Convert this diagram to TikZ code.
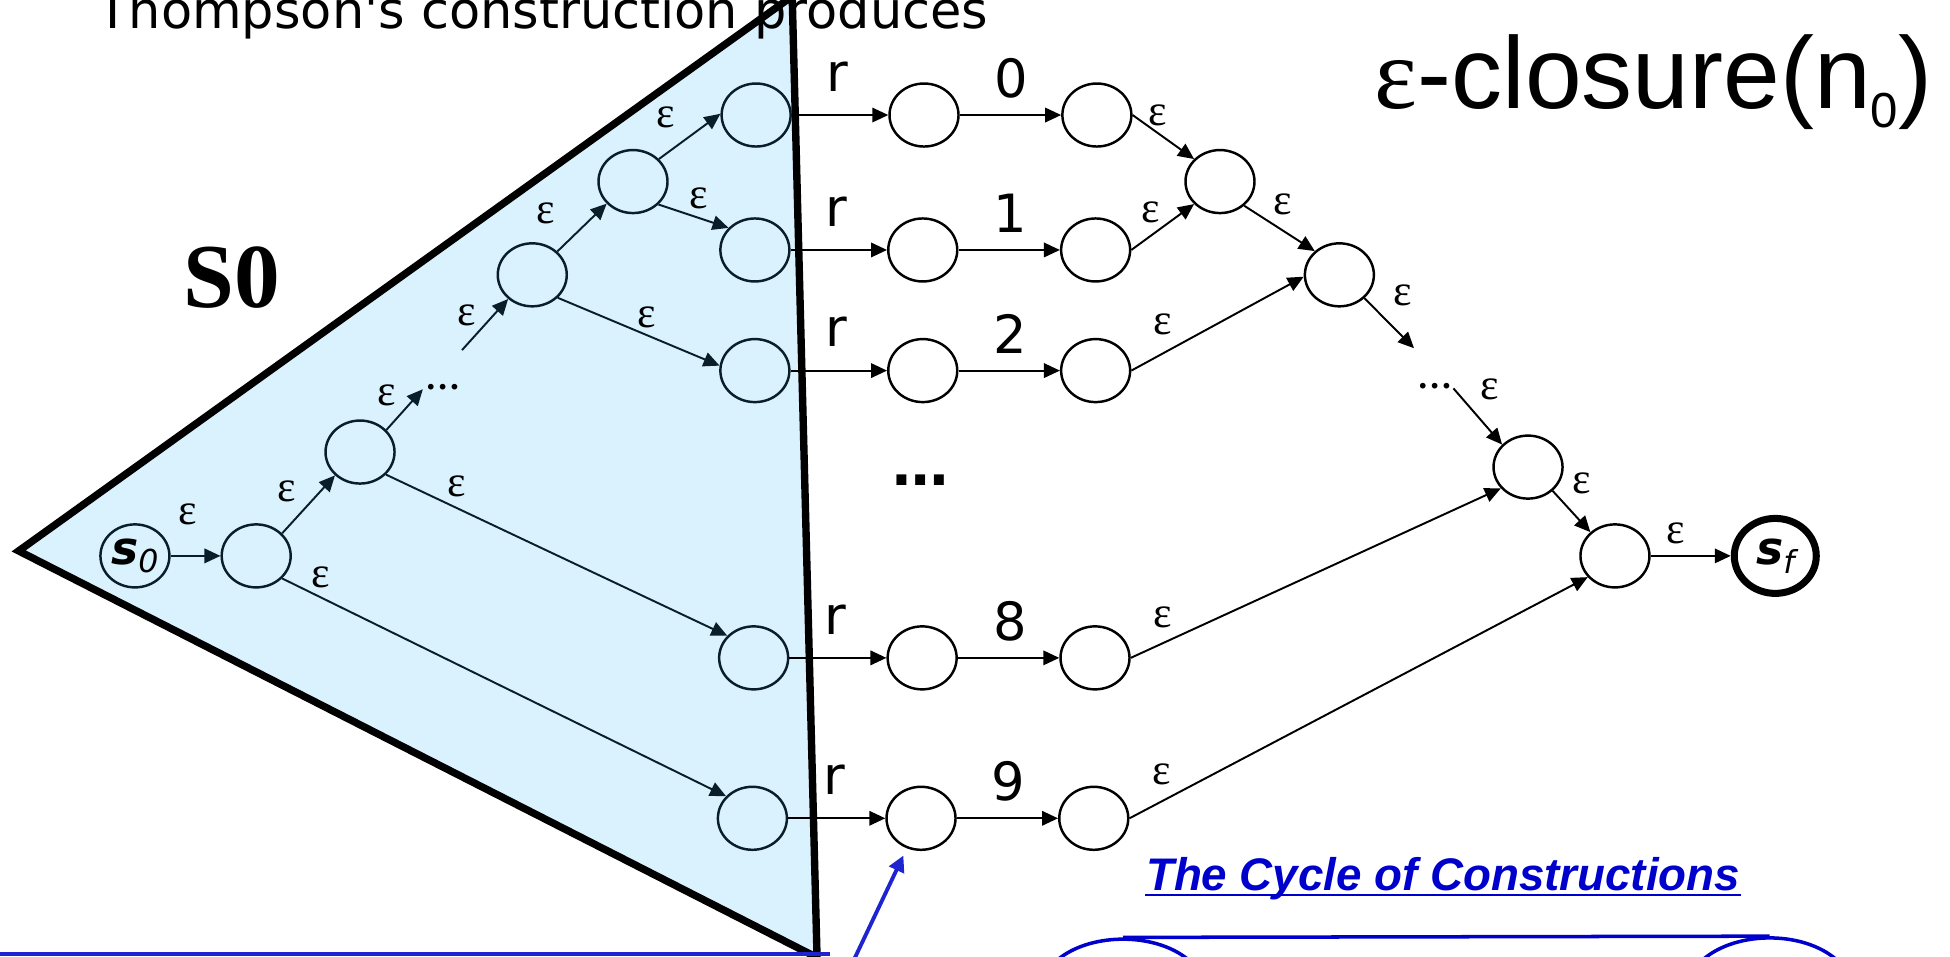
\documentclass[tikz,border=0pt]{standalone}
\usepackage{fontspec}
\setmainfont{Liberation Serif}
\setsansfont{Liberation Sans}
\newfontfamily\comicfont{DejaVu Sans}[BoldFont={DejaVu Sans Bold}, ItalicFont={DejaVu Sans Oblique}, BoldItalicFont={DejaVu Sans Bold Oblique}]
\usetikzlibrary{arrows.meta,positioning,shapes.geometric,calc}
\definecolor{sZeroFill}{RGB}{218,242,254}
\definecolor{sZeroInk}{RGB}{10,30,42}
\definecolor{cycBlue}{RGB}{0,0,204}
\definecolor{noteBlue}{RGB}{32,36,208}
\newcommand{\stName}[2]{{\comicfont\bfseries\itshape\fontsize{13}{13}\selectfont #1\raisebox{-2.5pt}{\mdseries\fontsize{9}{9}\selectfont #2}}}
\tikzset{
    nfaState/.style={
        ellipse,
        draw=black,
        line width=0.7pt,
        minimum width=6.9mm,
        minimum height=6.3mm,
        inner sep=0pt
    },
    innerState/.style={nfaState, draw=sZeroInk},
    finalState/.style={nfaState, line width=2pt, minimum width=8.2mm, minimum height=7.5mm},
    % Edges
    epsEdge/.style={-{Triangle[length=1.6mm,width=1.45mm]}, line width=0.55pt, draw=black},
    innerEdge/.style={epsEdge, draw=sZeroInk},
    % Labels
    epsLbl/.style={font=\fontsize{12.5}{12.5}\selectfont, inner sep=0pt},
    symLbl/.style={font=\comicfont\fontsize{15}{15}\selectfont, inner sep=0pt},
    dotsLbl/.style={font=\bfseries\fontsize{10}{10}\selectfont, inner sep=0pt},
    cycNode/.style={ellipse, draw=cycBlue, line width=1pt, minimum width=16.4mm, minimum height=10.4mm, inner sep=0pt}
}
\begin{document}
\begin{tikzpicture}[x=0.12436mm, y=-0.12436mm]
\useasboundingbox (0,0) rectangle (1568,769);
\clip (0,0) rectangle (1568,769);

\filldraw[fill=sZeroFill, draw=black, line width=2.1pt] (15,443) -- (637,-3) -- (657,770) -- cycle;

\node[anchor=base west, inner sep=0pt, font=\comicfont\fontsize{14.5}{14.5}\selectfont] (thompson) at (78,23) {Thompson's construction produces};
\node[anchor=base west, inner sep=0pt, font=\sffamily\fontsize{29}{29}\selectfont] (closure) at (1105,87) {{\rmfamily ε}-closure(n\raisebox{-5.4pt}{\fontsize{14}{14}\selectfont 0})};
\node[anchor=base west, inner sep=0pt, font=\bfseries\fontsize{26}{26}\selectfont] (sZero) at (147,247) {S0};

% states inside S0
\node[innerState] (s0) at (108.5,447) {\stName{s}{0}};
\node[innerState] (n1) at (206,447) {};
\node[innerState] (n2) at (289.5,363.5) {};
\node[innerState] (n3) at (428,221) {};
\node[innerState] (n4) at (509,146) {};
\node[innerState] (n5) at (608,92.5) {};
\node[innerState] (n6) at (607,201) {};
\node[innerState] (n7) at (607,298) {};
\node[innerState] (n8) at (606,529) {};
\node[innerState] (n9) at (605,658) {};
\node[dotsLbl] (dotsL) at (356,311) {…};
\coordinate (toDotsL) at (340,313);
\coordinate (inN3) at (371.5,281.5);

% states outside
\node[nfaState] (a0) at (743,92.5) {};
\node[nfaState] (b0) at (882,92.5) {};
\node[nfaState] (a1) at (742,201) {};
\node[nfaState] (b1) at (881,201) {};
\node[nfaState] (a2) at (742,298) {};
\node[nfaState] (b2) at (881,298) {};
\node[nfaState] (a8) at (741.5,529) {};
\node[nfaState] (b8) at (880.5,529) {};
\node[nfaState] (a9) at (740.6,658) {};
\node[nfaState] (b9) at (879.5,658) {};
\node[nfaState] (m1) at (981,146) {};
\node[nfaState] (m2) at (1077,221) {};
\node[nfaState] (m3) at (1228.7,375.6) {};
\node[nfaState] (m4) at (1298.6,447) {};
\node[finalState] (sf) at (1427.5,447) {\stName{s}{f}};
\node[inner sep=0pt, font=\comicfont\bfseries\fontsize{16}{16}\selectfont] (dotsMid) at (740.6,386) {…};
\node[dotsLbl] (dotsR) at (1153.6,310.4) {…};
\coordinate (toDotsR) at (1137,280);
\coordinate (fromDotsR) at (1168.7,312.3);

\draw[innerEdge] (s0.east) -- node[epsLbl, shift={(-6.5,-33)}] {ε} (n1.west);
\draw[innerEdge] (n1.41) -- node[epsLbl, shift={(-17.7,-10.8)}] {ε} (n2.223);
\draw[innerEdge] (n1.319) -- node[epsLbl, pos=.1, shift={(-5,-18)}] {ε} (n9.140);
\draw[innerEdge] (n2.319) -- node[epsLbl, pos=.2, shift={(2,-16.5)}] {ε} (n8.140);
\draw[innerEdge] (n2.40) -- node[epsLbl, shift={(-14.7,-11.4)}] {ε} (toDotsL);
\draw[innerEdge] (inN3) -- node[epsLbl, shift={(-15,-7)}] {ε} (n3.225);
\draw[innerEdge] (n3.43) -- node[epsLbl, shift={(-29.4,-11.3)}] {ε} (n4.220);
\draw[innerEdge] (n3.318) -- node[epsLbl, shift={(6.5,-11.4)}] {ε} (n7.172);
\draw[innerEdge] (n4.41) -- node[epsLbl, shift={(-19,-15.6)}] {ε} (n5.178);
\draw[innerEdge] (n4.318) -- node[epsLbl, shift={(4,-14.7)}] {ε} (n6.140);

\draw[epsEdge] (n5.east) -- node[symLbl, shift={(-2,-31)}] {r} (a0.west);
\draw[epsEdge] (n6.east) -- node[symLbl, shift={(-2,-31)}] {r} (a1.west);
\draw[epsEdge] (n7.east) -- node[symLbl, shift={(-2,-31)}] {r} (a2.west);
\draw[epsEdge] (n8.east) -- node[symLbl, shift={(-2,-31)}] {r} (a8.west);
\draw[epsEdge] (n9.east) -- node[symLbl, shift={(-2,-31)}] {r} (a9.west);
\draw[epsEdge] (a0.east) -- node[symLbl, shift={(1,-29.5)}] {0} (b0.west);
\draw[epsEdge] (a1.east) -- node[symLbl, shift={(1,-29.5)}] {1} (b1.west);
\draw[epsEdge] (a2.east) -- node[symLbl, shift={(1,-29.5)}] {2} (b2.west);
\draw[epsEdge] (a8.east) -- node[symLbl, shift={(1,-29.5)}] {8} (b8.west);
\draw[epsEdge] (a9.east) -- node[symLbl, shift={(1,-29.5)}] {9} (b9.west);

\draw[epsEdge] (b0.east) -- node[epsLbl, shift={(-4.5,-17.5)}] {ε} (m1.139);
\draw[epsEdge] (b1.east) -- node[epsLbl, shift={(-10,-12)}] {ε} (m1.221);
\draw[epsEdge] (m1.315) -- node[epsLbl, shift={(3,-19.3)}] {ε} (m2.136);
\draw[epsEdge] (b2.east) -- node[epsLbl, pos=.18, shift={(0,-23.4)}] {ε} (m2.183);
\draw[epsEdge] (m2.317) -- node[epsLbl, shift={(11,-22)}] {ε} (toDotsR);
\draw[epsEdge] (fromDotsR) -- node[epsLbl, shift={(10,-21.4)}] {ε} (m3.139);
\draw[epsEdge] (b8.east) -- node[epsLbl, pos=.1, shift={(-4,-19)}] {ε} (m3.218);
\draw[epsEdge] (m3.316) -- node[epsLbl, shift={(8,-22.4)}] {ε} (m4.136);
\draw[epsEdge] (b9.east) -- node[epsLbl, pos=.08, shift={(-3.6,-19.6)}] {ε} (m4.218);
\draw[epsEdge] (m4.east) -- node[epsLbl, shift={(-12.4,-18)}] {ε} (sf.west);

% note and cycle (cut by the page edge)
\draw[noteBlue, line width=1.2pt] (-5,767) -- (667,767);
\coordinate (noteFoot) at (678,790);
\draw[-{Triangle[length=1.6mm,width=1.6mm]}, noteBlue, line width=1.1pt, shorten >=0.8mm] (noteFoot) -- (a9);

\node[anchor=base west, inner sep=0pt, text=cycBlue, font=\sffamily\bfseries\itshape\fontsize{13}{13}\selectfont] (cycTitle) at (921,715.7) {The Cycle of Constructions};
\draw[cycBlue, line width=0.6pt] ([yshift=-1.3pt]cycTitle.base west) -- ([yshift=-1.3pt]cycTitle.base east);
\node[cycNode] (cycL) at (903,797) {};
\node[cycNode] (cycR) at (1423,796) {};
\draw[cycBlue, line width=1pt] (cycL.north) -- (cycR.north);
\end{tikzpicture}
\end{document}
